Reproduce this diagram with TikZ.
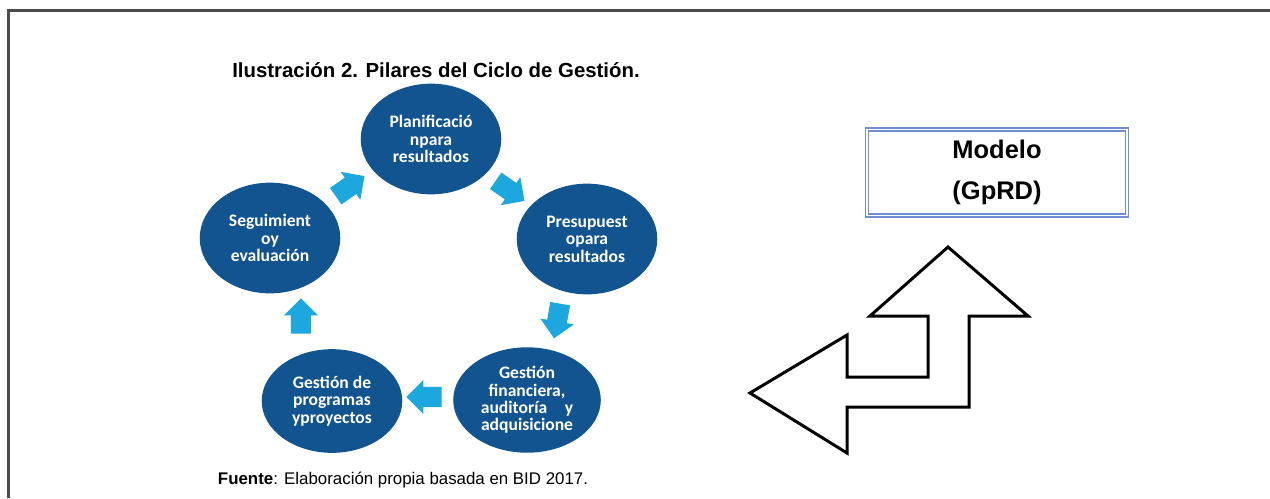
\documentclass[tikz,border=0pt]{standalone}
\usepackage{fontspec}
\setmainfont{Liberation Sans}
\newfontfamily\calibri{Carlito}
\usetikzlibrary{shapes.geometric,shapes.arrows}

\definecolor{pilarblue}{RGB}{18,84,144}
\definecolor{flowblue}{RGB}{28,168,222}
\definecolor{boxblue}{RGB}{112,142,212}

\tikzset{
  pilar/.style={ellipse, fill=pilarblue, text=white, inner sep=0pt,
    minimum width=80pt, minimum height=63pt, align=center,
    font=\calibri\bfseries\fontsize{10}{9.9}\selectfont},
  flow/.style={single arrow, fill=flowblue, inner xsep=0pt, inner ysep=5.5pt,
    minimum height=20pt, minimum width=0pt, single arrow head extend=4pt},
}

\begin{document}
\begin{tikzpicture}[x=0.02cm, y=-0.02cm]
\useasboundingbox (0,0) rectangle (1270,498);

% marco
\draw[black!70, line width=1.2pt] (8.5,498) -- (8.5,10.5) -- (1270,10.5);

% titulo y fuente
\node (titulo) at (436,70) {\bfseries\fontsize{11.6}{13}\selectfont Ilustración 2. Pilares del Ciclo de Gestión.};
\node (fuente) at (403,480) {\fontsize{9.6}{11}\selectfont\textbf{Fuente}: Elaboración propia basada en BID 2017.};

% pilares
\node[pilar] (plan) at (431,139) {Planificació\\npara\\resultados};
\node[pilar] (pres) at (587,239) {Presupuest\\opara\\resultados};
\node[pilar, minimum width=84pt, minimum height=60pt] (fin) at (527,400) {Gestión\\financiera,\\auditoría\quad y\\adquisicione};
\node[pilar, minimum height=59pt] (prog) at (332,401) {Gestión de\\programas\\yproyectos};
\node[pilar] (seg) at (270,238) {Seguimient\\oy\\evaluación};

% flechas del ciclo
\node[flow, rotate=35] (f1) at (346,189) {};
\node[flow, rotate=-35] (f2) at (506,188) {};
\node[flow, rotate=-100] (f3) at (558,316) {};
\node[flow, rotate=180] (f4) at (429,397) {};
\node[flow, rotate=90] (f5) at (301,321) {};

% modelo
\node[draw=boxblue, double, double distance=1pt, line width=0.7pt,
  minimum width=148pt, minimum height=49pt, align=center,
  font=\bfseries\fontsize{14.5}{23}\selectfont] (modelo) at (997,172.5) {Modelo\\ (GpRD)};

% flecha doble
\draw[line width=1.7pt, line join=miter]
  (948,247) -- (1028,316) -- (969,316) -- (969,407) -- (847,407) -- (847,453)
  -- (750,393) -- (847,335) -- (847,377) -- (928,377) -- (928,316) -- (870,316) -- cycle;
\end{tikzpicture}
\end{document}
